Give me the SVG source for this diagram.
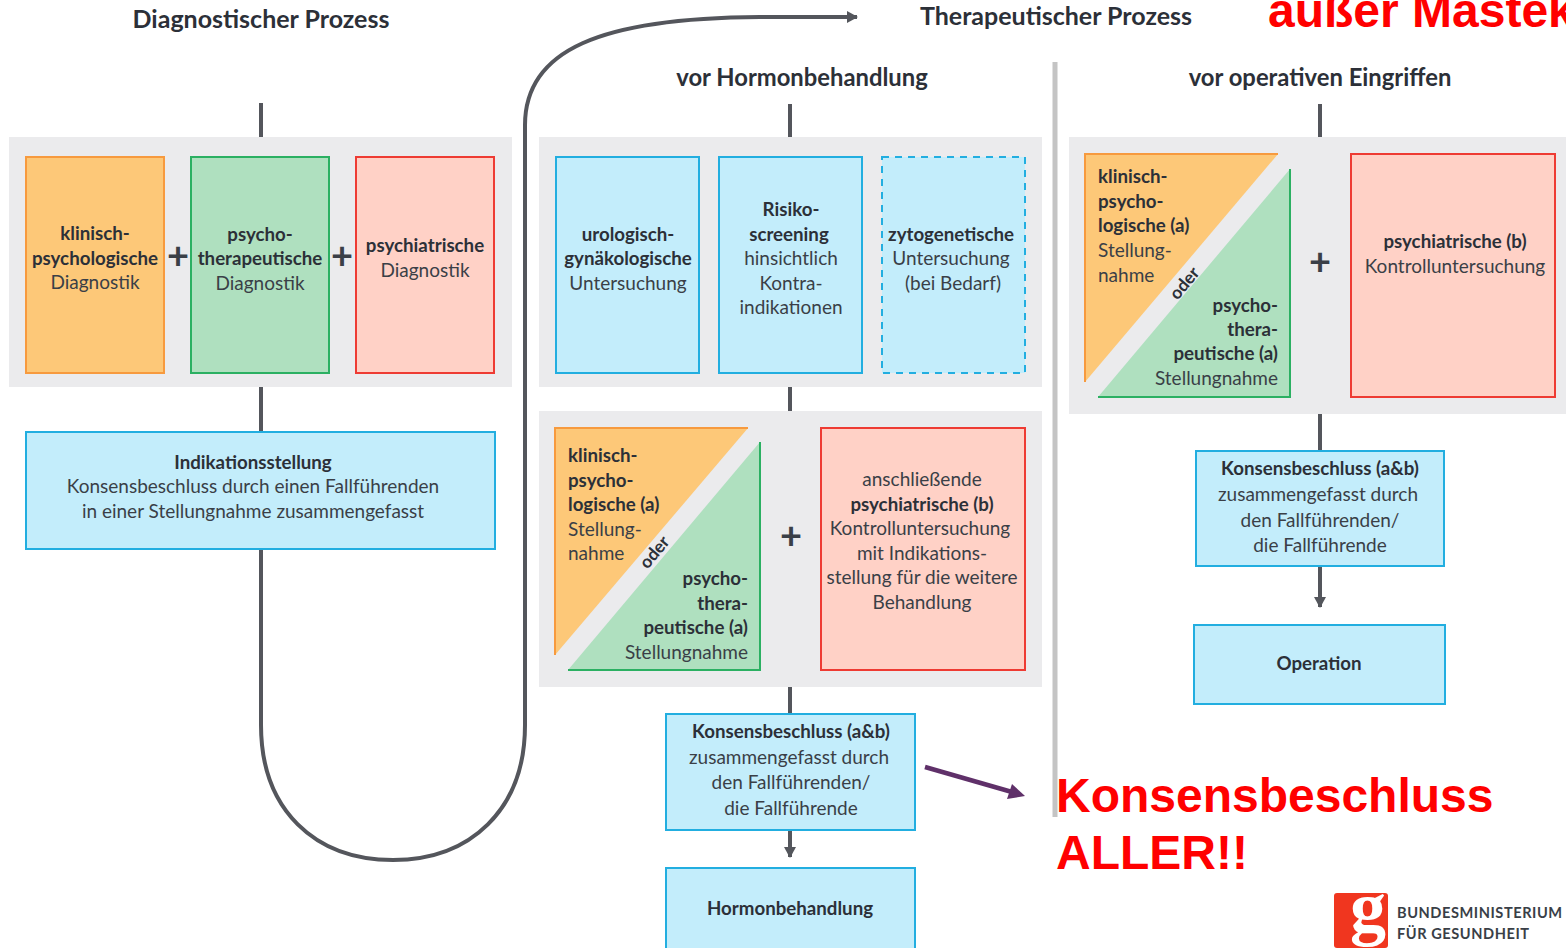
<svg xmlns="http://www.w3.org/2000/svg" width="1566" height="948" viewBox="0 0 1566 948">
<style>
text{font-family:Lato,"Open Sans","Liberation Sans",sans-serif;font-size:19px;fill:#3a3f47}
.b{font-weight:700;font-size:18.7px;fill:#2c3038}
.m{text-anchor:middle}
.e{text-anchor:end}
.h{font-size:23.8px;font-weight:700;fill:#2c3038;text-anchor:middle}
.h2{font-size:25px}
.r{font-family:"Liberation Sans",Arial,sans-serif;font-weight:700;fill:#f00;font-size:48px}
.p{font-size:38px;font-weight:700;fill:#3a3f47;text-anchor:middle}
.o{font-size:17.5px}
.bg{fill:#ebebed}
.blue{fill:#c3edfb;stroke:#22aee0;stroke-width:2}
.or{fill:#fdc878;stroke:#f79a3e;stroke-width:2}
.gr{fill:#afe0bf;stroke:#2bb062;stroke-width:2}
.rd{fill:#ffd1c6;stroke:#ee3b33;stroke-width:2}
.ln{fill:none;stroke:#54565c;stroke-width:4}
.tri{stroke:none}
.logo{font-size:14.6px;font-weight:700;letter-spacing:.55px}
</style>
<defs>
<marker id="ah" markerUnits="userSpaceOnUse" markerWidth="12" markerHeight="12" refX="10" refY="6" orient="auto"><path d="M0 0L11 6L0 12z" fill="#54565c"/></marker>
</defs>

<g id="panels">
<rect class="bg" x="9" y="137" width="503" height="250"/>
<rect class="bg" x="539" y="137" width="503" height="250"/>
<rect class="bg" x="539" y="411" width="503" height="276"/>
<rect class="bg" x="1069" y="137" width="497" height="277"/>
</g>

<g id="connectors">
<path class="ln" d="M261 103V137M261 387V432M261 549V725C261 810 315 860 393 860C470 860 525 810 525 725V125C525 50 600 18 760 17H857" marker-end="url(#ah)"/>
<path class="ln" d="M790 104V137M790 387V411M790 687V714"/>
<path class="ln" d="M790 830V857" marker-end="url(#ah)"/>
<path class="ln" d="M1320 104V137M1320 414V451"/>
<path class="ln" d="M1320 567V607" marker-end="url(#ah)"/>
<path d="M925 767L1012 792" fill="none" stroke="#5f3069" stroke-width="4.5"/>
<path d="M1025 796L1012 784L1007 799z" fill="#5f3069"/>
<path d="M1055 62V817" fill="none" stroke="#c4c4c4" stroke-width="5"/>
</g>

<g id="headings">
<text class="h h2" x="261" y="28">Diagnostischer Prozess</text>
<text class="h h2" x="1056" y="25">Therapeutischer Prozess</text>
<text class="h" x="802" y="86">vor Hormonbehandlung</text>
<text class="h" x="1320" y="86">vor operativen Eingriffen</text>
</g>

<g id="n-klin-diag">
<rect class="or" x="26" y="157" width="138" height="216"/>
<text class="b m" x="95" y="240">klinisch-</text>
<text class="b m" x="95" y="265">psychologische</text>
<text class="m" x="95" y="289">Diagnostik</text>
</g>
<text class="p" x="178" y="269">+</text>
<g id="n-psych-diag">
<rect class="gr" x="191" y="157" width="138" height="216"/>
<text class="b m" x="260" y="241">psycho-</text>
<text class="b m" x="260" y="265">therapeutische</text>
<text class="m" x="260" y="290">Diagnostik</text>
</g>
<text class="p" x="342" y="269">+</text>
<g id="n-psychiatr-diag">
<rect class="rd" x="356" y="157" width="138" height="216"/>
<text class="b m" x="425" y="252">psychiatrische</text>
<text class="m" x="425" y="277">Diagnostik</text>
</g>
<g id="n-indikation">
<rect class="blue" x="26" y="432" width="469" height="117"/>
<text class="b m" x="253" y="469">Indikationsstellung</text>
<text class="m" x="253" y="493">Konsensbeschluss durch einen Fallführenden</text>
<text class="m" x="253" y="518">in einer Stellungnahme zusammengefasst</text>
</g>

<g id="n-uro">
<rect class="blue" x="556" y="157" width="143" height="216"/>
<text class="b m" x="628" y="241">urologisch-</text>
<text class="b m" x="628" y="265">gynäkologische</text>
<text class="m" x="628" y="290">Untersuchung</text>
</g>
<g id="n-risiko">
<rect class="blue" x="719" y="157" width="143" height="216"/>
<text class="b m" x="791" y="216">Risiko-</text>
<text class="b m" x="789" y="241">screening</text>
<text class="m" x="791" y="265">hinsichtlich</text>
<text class="m" x="791" y="290">Kontra-</text>
<text class="m" x="791" y="314">indikationen</text>
</g>
<g id="n-zyto">
<rect class="blue" x="882" y="157" width="143" height="216" stroke-dasharray="7 6"/>
<text class="b m" x="951" y="241">zytogenetische</text>
<text class="m" x="951" y="265">Untersuchung</text>
<text class="m" x="953" y="290">(bei Bedarf)</text>
</g>

<g id="n-stellung-hormon">
<path class="or tri" d="M555 428H748L555 655z"/>
<path d="M555 655V428H748" fill="none" stroke="#f79a3e" stroke-width="2"/>
<path class="gr tri" d="M760 442V670H568z"/>
<path d="M568 670H760V442" fill="none" stroke="#2bb062" stroke-width="2"/>
<text class="b" x="568" y="462">klinisch-</text>
<text class="b" x="568" y="487">psycho-</text>
<text class="b" x="568" y="511">logische (a)</text>
<text x="568" y="536">Stellung-</text>
<text x="568" y="560">nahme</text>
<text class="b e" x="748" y="585">psycho-</text>
<text class="b e" x="748" y="610">thera-</text>
<text class="b e" x="748" y="634">peutische (a)</text>
<text class="e" x="748" y="659">Stellungnahme</text>
<text class="b m o" transform="translate(659 556) rotate(-50)">oder</text>
</g>
<text class="p" x="791" y="549">+</text>
<g id="n-kontrolle-hormon">
<rect class="rd" x="821" y="428" width="204" height="242"/>
<text class="m" x="922" y="486">anschließende</text>
<text class="b m" x="922" y="511">psychiatrische (b)</text>
<text class="m" x="920" y="535">Kontrolluntersuchung</text>
<text class="m" x="922" y="560">mit Indikations-</text>
<text class="m" x="922" y="584">stellung für die weitere</text>
<text class="m" x="922" y="609">Behandlung</text>
</g>
<g id="n-konsens-hormon">
<rect class="blue" x="666" y="714" width="249" height="116"/>
<text class="b m" x="791" y="738">Konsensbeschluss (a&amp;b)</text>
<text class="m" x="789" y="764">zusammengefasst durch</text>
<text class="m" x="791" y="789">den Fallführenden/</text>
<text class="m" x="791" y="815">die Fallführende</text>
</g>
<g id="n-hormon">
<rect class="blue" x="666" y="868" width="249" height="90"/>
<text class="b m" x="790" y="915">Hormonbehandlung</text>
</g>

<g id="n-stellung-op">
<path class="or tri" d="M1085 154H1278L1085 382z"/>
<path d="M1085 382V154H1278" fill="none" stroke="#f79a3e" stroke-width="2"/>
<path class="gr tri" d="M1290 169V397H1098z"/>
<path d="M1098 397H1290V169" fill="none" stroke="#2bb062" stroke-width="2"/>
<text class="b" x="1098" y="183">klinisch-</text>
<text class="b" x="1098" y="208">psycho-</text>
<text class="b" x="1098" y="232">logische (a)</text>
<text x="1098" y="257">Stellung-</text>
<text x="1098" y="282">nahme</text>
<text class="b e" x="1278" y="312">psycho-</text>
<text class="b e" x="1278" y="336">thera-</text>
<text class="b e" x="1278" y="360">peutische (a)</text>
<text class="e" x="1278" y="385">Stellungnahme</text>
<text class="b m o" transform="translate(1189 287) rotate(-50)">oder</text>
</g>
<text class="p" x="1320" y="275">+</text>
<g id="n-kontrolle-op">
<rect class="rd" x="1351" y="154" width="204" height="243"/>
<text class="b m" x="1455" y="248">psychiatrische (b)</text>
<text class="m" x="1455" y="273">Kontrolluntersuchung</text>
</g>
<g id="n-konsens-op">
<rect class="blue" x="1196" y="451" width="248" height="115"/>
<text class="b m" x="1320" y="475">Konsensbeschluss (a&amp;b)</text>
<text class="m" x="1318" y="501">zusammengefasst durch</text>
<text class="m" x="1320" y="527">den Fallführenden/</text>
<text class="m" x="1320" y="552">die Fallführende</text>
</g>
<g id="n-operation">
<rect class="blue" x="1194" y="625" width="251" height="79"/>
<text class="b m" x="1319" y="670">Operation</text>
</g>

<g id="annotations">
<text class="r" x="1268" y="27">außer Mastek</text>
<text class="r" x="1056" y="812">Konsensbeschluss</text>
<text class="r" x="1056" y="869">ALLER!!</text>
</g>

<g id="logo">
<rect x="1334" y="893" width="54" height="55" rx="3" fill="#f0361f"/>
<text x="1368" y="932" style="font-size:72px;font-weight:700;fill:#fff;text-anchor:middle;font-family:'Liberation Serif',serif">g</text>
<text class="logo" x="1397" y="918">BUNDESMINISTERIUM</text>
<text class="logo" x="1397" y="939">FÜR GESUNDHEIT</text>
</g>
</svg>
